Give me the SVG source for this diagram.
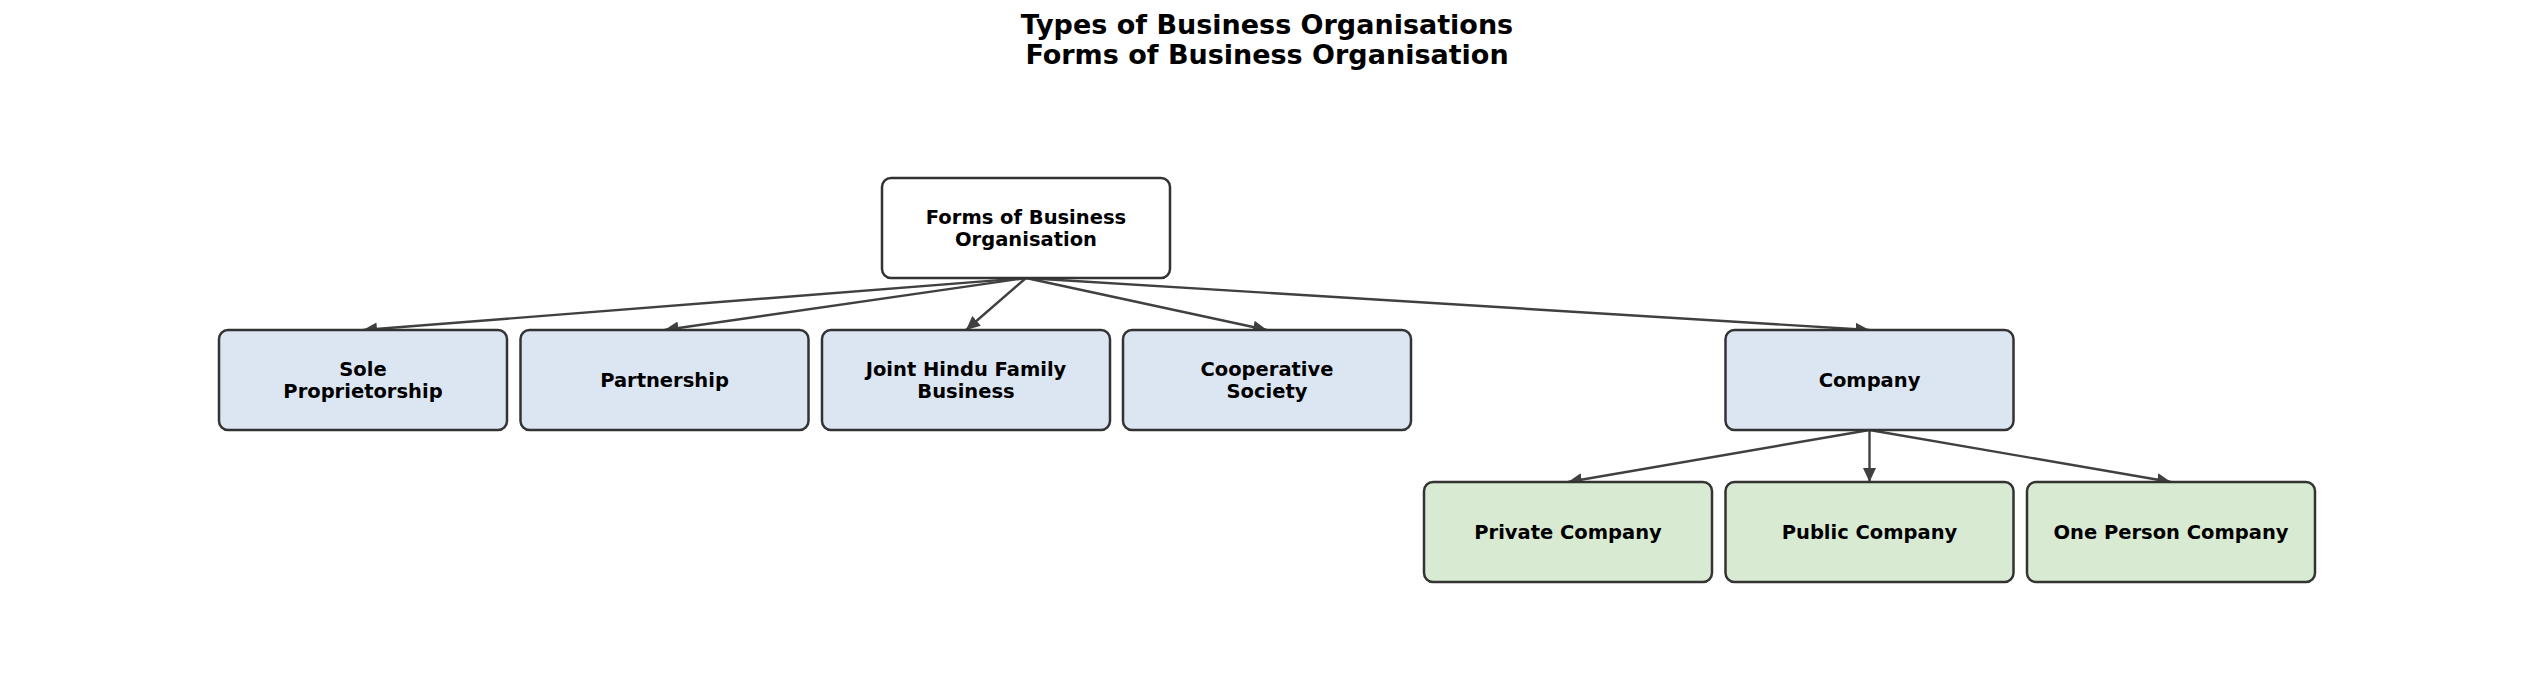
<svg xmlns="http://www.w3.org/2000/svg" width="2534" height="699" viewBox="0 0 2534 699">
<style>
text{font-family:"DejaVu Sans","Liberation Sans",sans-serif;font-weight:bold;fill:#000;text-anchor:middle}
.title{font-size:27px}
.lbl{font-size:19.5px}
.box{stroke:#333333;stroke-width:2.5}
.root{fill:#ffffff}
.blue{fill:#dce6f2}
.green{fill:#d9ead3}
.edge{stroke:#404040;stroke-width:2.4;fill:none;marker-end:url(#arr)}
</style>
<defs>
<marker id="arr" markerUnits="userSpaceOnUse" markerWidth="14" markerHeight="14" viewBox="0 0 14 14" refX="14" refY="7" orient="auto">
<path d="M0,0.5 L14,7 L0,13.5 Z" fill="#404040"/>
</marker>
</defs>
<g id="title">
<text class="title" x="1267" y="34">Types of Business Organisations</text>
<text class="title" x="1267" y="64">Forms of Business Organisation</text>
</g>
<g id="connectors">
<line class="edge" x1="1026" y1="278" x2="363" y2="330"/>
<line class="edge" x1="1026" y1="278" x2="664.5" y2="330"/>
<line class="edge" x1="1026" y1="278" x2="966" y2="330"/>
<line class="edge" x1="1026" y1="278" x2="1267" y2="330"/>
<line class="edge" x1="1026" y1="278" x2="1869.5" y2="330"/>
<line class="edge" x1="1869.5" y1="430" x2="1568" y2="482"/>
<line class="edge" x1="1869.5" y1="430" x2="1869.5" y2="482"/>
<line class="edge" x1="1869.5" y1="430" x2="2171" y2="482"/>
</g>
<g id="root">
<rect class="box root" x="882" y="178" width="288" height="100" rx="9"/>
<text class="lbl" x="1026" y="224">Forms of Business</text>
<text class="lbl" x="1026" y="246">Organisation</text>
</g>
<g id="sole">
<rect class="box blue" x="219" y="330" width="288" height="100" rx="9"/>
<text class="lbl" x="363" y="376">Sole</text>
<text class="lbl" x="363" y="398">Proprietorship</text>
</g>
<g id="partnership">
<rect class="box blue" x="520.5" y="330" width="288" height="100" rx="9"/>
<text class="lbl" x="664.5" y="387">Partnership</text>
</g>
<g id="jhf">
<rect class="box blue" x="822" y="330" width="288" height="100" rx="9"/>
<text class="lbl" x="966" y="376">Joint Hindu Family</text>
<text class="lbl" x="966" y="398">Business</text>
</g>
<g id="coop">
<rect class="box blue" x="1123" y="330" width="288" height="100" rx="9"/>
<text class="lbl" x="1267" y="376">Cooperative</text>
<text class="lbl" x="1267" y="398">Society</text>
</g>
<g id="company">
<rect class="box blue" x="1725.5" y="330" width="288" height="100" rx="9"/>
<text class="lbl" x="1869.5" y="387">Company</text>
</g>
<g id="private">
<rect class="box green" x="1424" y="482" width="288" height="100" rx="9"/>
<text class="lbl" x="1568" y="539">Private Company</text>
</g>
<g id="public">
<rect class="box green" x="1725.5" y="482" width="288" height="100" rx="9"/>
<text class="lbl" x="1869.5" y="539">Public Company</text>
</g>
<g id="opc">
<rect class="box green" x="2027" y="482" width="288" height="100" rx="9"/>
<text class="lbl" x="2171" y="539">One Person Company</text>
</g>
</svg>
